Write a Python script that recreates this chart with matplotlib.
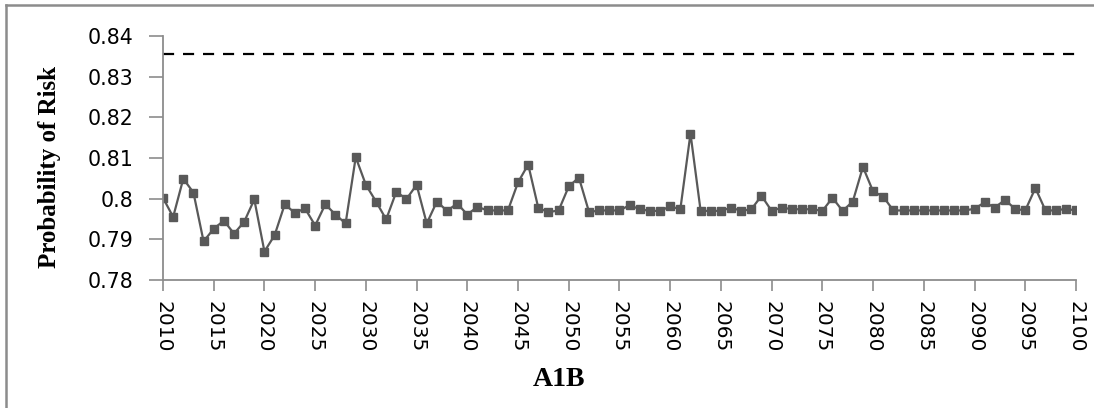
import matplotlib
matplotlib.use("Agg")
import matplotlib.pyplot as plt
from matplotlib.lines import Line2D
from matplotlib.ticker import FuncFormatter

years = list(range(2010, 2101))
risk = [
    0.8002, 0.7955, 0.8049, 0.8015, 0.7895, 0.7926, 0.7946, 0.7914, 0.7943, 0.7998,  # 2010-2019
    0.7870, 0.7910, 0.7986, 0.7965, 0.7976, 0.7934, 0.7986, 0.7961, 0.7939, 0.8102,  # 2020-2029
    0.8034, 0.7993, 0.7949, 0.8017, 0.7999, 0.8034, 0.7939, 0.7993, 0.7970, 0.7988,  # 2030-2039
    0.7961, 0.7980, 0.7971, 0.7971, 0.7971, 0.8040, 0.8084, 0.7977, 0.7967, 0.7971,  # 2040-2049
    0.8030, 0.8052, 0.7967, 0.7971, 0.7971, 0.7971, 0.7984, 0.7974, 0.7970, 0.7970,  # 2050-2059
    0.7981, 0.7974, 0.8160, 0.7970, 0.7970, 0.7970, 0.7978, 0.7970, 0.7974, 0.8007,  # 2060-2069
    0.7970, 0.7978, 0.7974, 0.7974, 0.7974, 0.7970, 0.8002, 0.7970, 0.7993, 0.8078,  # 2070-2079
    0.8018, 0.8005, 0.7971, 0.7971, 0.7971, 0.7971, 0.7971, 0.7971, 0.7971, 0.7971,  # 2080-2089
    0.7975, 0.7991, 0.7978, 0.7997, 0.7975, 0.7971, 0.8026, 0.7971, 0.7971, 0.7975,  # 2090-2099
    0.7971,                                                                          # 2100
]
threshold = 0.8356
y_ticks = [0.78, 0.79, 0.80, 0.81, 0.82, 0.83, 0.84]
x_ticks = list(range(2010, 2101, 5))

plt.rcParams["font.family"] = "DejaVu Sans"

fig = plt.figure(figsize=(10.94, 4.08), dpi=100)
ax = fig.add_axes([0.149, 0.3137, 0.8345, 0.5981])

ax.plot(years, risk, color="#595959", lw=1.6, marker="s", markersize=5.5,
        markerfacecolor="#595959", markeredgecolor="#595959")
ax.plot([years[0], years[-1]], [threshold, threshold], color="black",
        lw=1.6, linestyle=(0, (5, 4)))

ax.set_xlim(2010, 2100)
ax.set_ylim(0.78, 0.84)
ax.set_xticks(x_ticks)
ax.set_yticks(y_ticks)
ax.yaxis.set_major_formatter(FuncFormatter(lambda v, p: f"{v:g}"))
ax.tick_params(axis="x", labelsize=14.5, labelrotation=-90, length=8,
               width=1.2, color="#8c8c8c", pad=7)
ax.tick_params(axis="y", labelsize=14.8, length=10, width=1.2,
               color="#8c8c8c", pad=11)
for lab in ax.get_xticklabels():
    lab.set_va("top")
    lab.set_ha("center")

for s in ["top", "right"]:
    ax.spines[s].set_visible(False)
for s in ["left", "bottom"]:
    ax.spines[s].set_color("#8c8c8c")
    ax.spines[s].set_linewidth(1.3)

fig.text(50 / 1094, 1 - 167 / 408, "Probability of Risk", rotation=90,
         ha="center", va="center", fontsize=18, fontweight="bold",
         family="Liberation Serif")
fig.text(559 / 1094, 1 - 379 / 408, "A1B", ha="center", va="center",
         fontsize=20, fontweight="bold", family="Liberation Serif")

# outer chart frame (only left and top edges visible in the crop)
fig.add_artist(Line2D([6 / 1094, 6 / 1094], [0, 1 - 5 / 408],
                      transform=fig.transFigure, color="#8c8c8c", lw=1.8))
fig.add_artist(Line2D([6 / 1094, 1], [1 - 5 / 408, 1 - 5 / 408],
                      transform=fig.transFigure, color="#8c8c8c", lw=1.8))

fig.savefig("out.png", dpi=100)
